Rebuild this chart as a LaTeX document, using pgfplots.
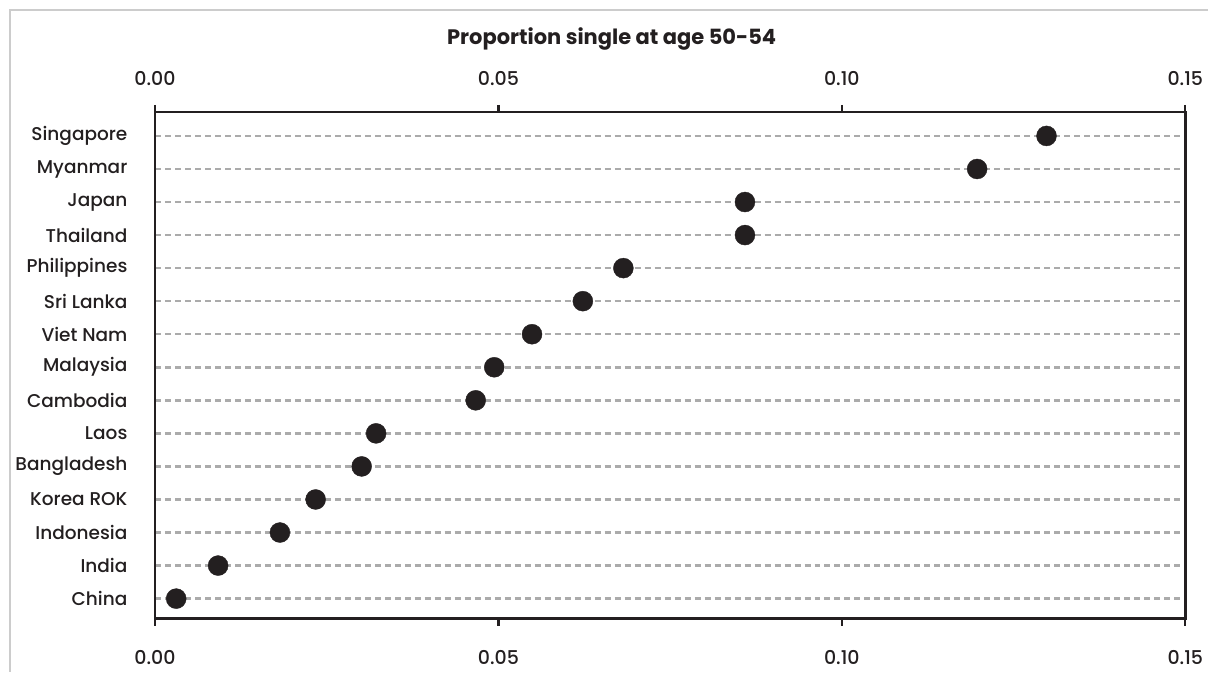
\documentclass[border=0pt]{standalone}
\usepackage{pgfplots}
\pgfplotsset{compat=1.18}
\usepackage{fontspec}
\setmainfont{Poppins}[UprightFont=* Medium, BoldFont=* Bold]
\definecolor{ink}{HTML}{231F20}
\definecolor{gridc}{HTML}{ABABAB}
\definecolor{framec}{HTML}{CCCCCC}
\pgfplotstableread{
x y
0.0031 0
0.0092 1
0.0182 2
0.0234 3
0.0301 4
0.0322 5
0.0467 6
0.0494 7
0.0549 8
0.0623 9
0.0682 10
0.0859 11
0.0859 12
0.1197 13
0.1298 14
}\data
\begin{document}
\begin{tikzpicture}[x=1pt,y=1pt]
\path (-155,-53) rectangle (1054,619);
\draw[framec, line width=1.5pt] (-145,-53) -- (-145,609) -- (1054,609);
\pgfplotsset{common/.style={
  scale only axis, width=1031pt, height=507pt,
  xmin=0, xmax=0.15, ymin=-0.605, ymax=14.726,
  xtick={0,0.05,0.10,0.15},
  xticklabels={0.00,0.05,0.10,0.15},
  /pgf/number format/assume math mode=true,
  ticklabel style={font=\fontsize{19}{22}\selectfont, text=ink},
}}
\begin{axis}[common,
  axis line style={ink, line width=2.6pt},
  xtick pos=both, tick align=outside,
  major tick length=7pt,
  xtick style={ink, line width=2.4pt},
  xticklabel pos=lower,
  xticklabel style={yshift=-21pt},
  ytick={0,...,14},
  yticklabels={China,India,Indonesia,Korea ROK,Bangladesh,Laos,Cambodia,Malaysia,Viet Nam,Sri Lanka,Philippines,Thailand,Japan,Myanmar,Singapore},
  ytick style={draw=none},
  yticklabel style={anchor=east, xshift=-17pt, font=\fontsize{18.5}{22}\selectfont},
  ymajorgrids,
  grid style={gridc, line width=2.5pt, dash pattern=on 6pt off 4pt},
]
\addplot[only marks, mark=*, mark size=10pt, mark options={fill=ink, draw=ink}] table[x=x,y=y] {\data};
\end{axis}
\begin{axis}[common,
  axis line style={draw=none},
  xticklabel pos=upper,
  ytick=\empty,
  xtick style={draw=none},
  xticklabel style={yshift=23pt},
]
\end{axis}
\node[font=\bfseries\fontsize{21}{25}\selectfont, text=ink] at (457,580) {Proportion single at age 50-54};
\end{tikzpicture}
\end{document}
